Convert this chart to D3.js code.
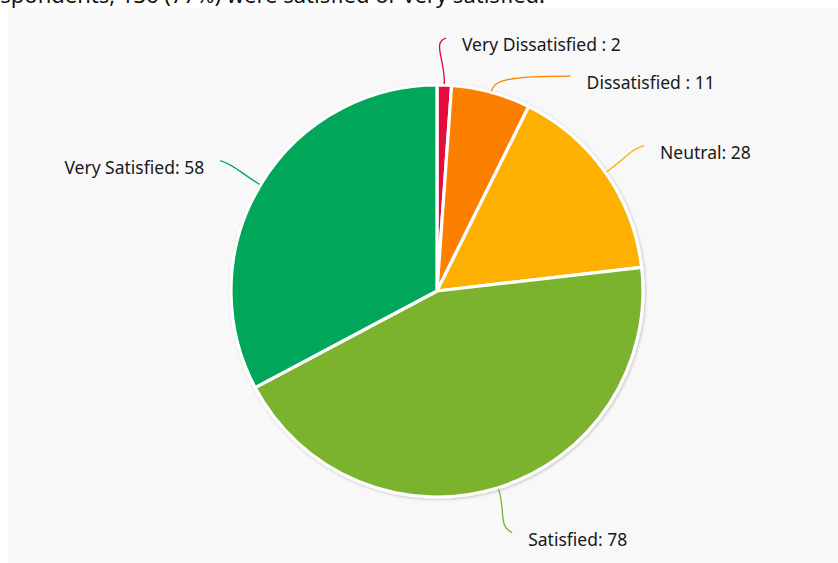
<!DOCTYPE html>
<html>
<head>
<meta charset="utf-8">
<script src="https://cdn.jsdelivr.net/npm/d3@7"></script>
<style>
  html, body { margin: 0; padding: 0; background: #ffffff; overflow: hidden; }
  svg { display: block; font-family: "Noto Sans", "Open Sans", sans-serif; }
</style>
</head>
<body>
<svg id="chart" width="838" height="563"></svg>
<script>
// Survey responses, clockwise from 12 o'clock
const categories = ["Very Dissatisfied", "Dissatisfied", "Neutral", "Satisfied", "Very Satisfied"];
const counts = [2, 11, 28, 78, 58];
const separators = [" : ", " : ", ": ", ": ", ": "];
const colors = ["#e2073a", "#fd7f00", "#fdb000", "#7cb32f", "#00a65a"];
const titleText = "Of the 177 respondents, 136 (77%) were satisfied or very satisfied.";

const data = categories.map((c, i) => ({ name: c, value: counts[i], sep: separators[i], color: colors[i] }));

const W = 838, H = 563;
const cx = 437, cy = 291, R = 206;

const svg = d3.select("#chart");

const defs = svg.append("defs");
const shadow = defs.append("filter").attr("id", "pieShadow")
  .attr("x", "-10%").attr("y", "-10%").attr("width", "120%").attr("height", "120%");
shadow.append("feDropShadow")
  .attr("dx", 1).attr("dy", 1).attr("stdDeviation", 1.6)
  .attr("flood-color", "#000").attr("flood-opacity", 0.22);

// page and panel
svg.append("rect").attr("width", W).attr("height", H).attr("fill", "#ffffff");
svg.append("rect").attr("x", 8).attr("y", 8).attr("width", W - 8).attr("height", H - 8).attr("fill", "#f8f8f8");

// headline (runs above the top of the page)
svg.append("text")
  .attr("x", 545).attr("y", 3)
  .attr("text-anchor", "end")
  .attr("font-size", 22)
  .attr("fill", "#111")
  .text(titleText);

const pie = d3.pie().value(d => d.value).sort(null);
const arcs = pie(data);
const arc = d3.arc().innerRadius(0).outerRadius(R);

const g = svg.append("g").attr("transform", `translate(${cx},${cy})`);

g.append("g").attr("filter", "url(#pieShadow)")
  .selectAll("path")
  .data(arcs)
  .join("path")
  .attr("d", arc)
  .attr("fill", d => d.data.color)
  .attr("stroke", "#ffffff")
  .attr("stroke-width", 3.2)
  .attr("stroke-linejoin", "round");

// Label layout: leader lines leave each slice at its mid angle and end on a
// larger ring; labels on the same side are pushed apart vertically.
const ringR = R + 47;
const minGap = 38;
const placed = arcs.map(a => {
  const ang = (a.startAngle + a.endAngle) / 2;
  const sx = Math.sin(ang), sy = -Math.cos(ang);
  return {
    a, ang, sx, sy,
    side: sx >= 0 ? 1 : -1,
    start: [sx * (R + 1), sy * (R + 1)],
    end: [sx * ringR, sy * ringR]
  };
});

[1, -1].forEach(side => {
  const items = placed.filter(p => p.side === side).sort((p, q) => p.end[1] - q.end[1]);
  for (let i = 1; i < items.length; i++) {
    const prev = items[i - 1], cur = items[i];
    if (cur.end[1] - prev.end[1] < minGap) {
      const y = prev.end[1] + minGap;
      cur.end = [side * Math.sqrt(Math.max(0, ringR * ringR - y * y)), y];
      cur.moved = true;
    }
  }
});

const lines = g.append("g");
const labels = g.append("g");

placed.forEach(p => {
  const [x0, y0] = p.start;
  const [x3, y3] = p.end;
  let c1, c2;
  if (p.moved) {
    c1 = [x0 + p.sx * 10, y0 + p.sy * 10];
    c2 = [x0 + p.sx * 10 + p.side * 6, y3];
  } else {
    c1 = [x0 + p.sx * 24, y0 + p.sy * 24];
    c2 = [x3 - p.side * 14, y3 + (p.sy > 0 ? -6 : 4)];
  }
  const path = d3.path();
  path.moveTo(x0, y0);
  path.bezierCurveTo(c1[0], c1[1], c2[0], c2[1], x3, y3);
  lines.append("path")
    .attr("d", path.toString())
    .attr("fill", "none")
    .attr("stroke", p.a.data.color)
    .attr("stroke-width", 1.3);

  labels.append("text")
    .attr("x", x3 + p.side * 16)
    .attr("y", y3 + 7)
    .attr("dy", "0.35em")
    .attr("text-anchor", p.side > 0 ? "start" : "end")
    .attr("font-size", 17.5)
    .attr("fill", "#1a1a1a")
    .text(p.a.data.name + p.a.data.sep + p.a.data.value);
});
</script>
</body>
</html>
